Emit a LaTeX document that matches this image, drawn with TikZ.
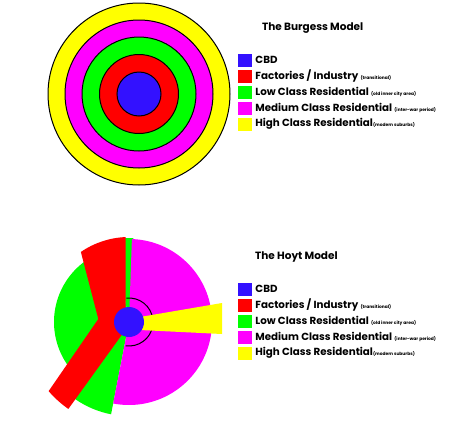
\documentclass[tikz,border=0pt]{standalone}
\usepackage{fontspec}
\setmainfont{Poppins}
\usetikzlibrary{positioning,calc}
\definecolor{cbd}{RGB}{51,17,255}
\definecolor{fac}{RGB}{255,0,0}
\definecolor{low}{RGB}{0,255,0}
\definecolor{med}{RGB}{255,0,255}
\definecolor{high}{RGB}{255,255,0}
\newcommand{\zonenote}[1]{{\fontsize{4.4}{5}\selectfont #1}}

\begin{document}
\begin{tikzpicture}[
  x=1pt,y=-1pt,
  ring/.style={draw=black,line width=1pt},
  key/.style={minimum width=14pt,minimum height=13pt,inner sep=0pt},
  keytext/.style={font=\bfseries\fontsize{10.3}{12}\selectfont,inner sep=0pt,
                  right=3pt of #1},
  title/.style={font=\bfseries\fontsize{10.5}{12}\selectfont,anchor=west,
                inner sep=0pt}
]
\useasboundingbox[fill=white] (0,0) rectangle (474,421);

% burgess rings
\coordinate (bc) at (139,94);
\draw[ring,fill=high] (bc) circle[radius=91pt];
\draw[ring,fill=med] (bc) circle[radius=74pt];
\draw[ring,fill=low] (bc) circle[radius=57pt];
\draw[ring,fill=fac] (bc) circle[radius=39.5pt];
\draw[ring,fill=cbd] (bc) circle[radius=22pt];

% burgess key
\node[title] (btitle) at (262,28) {The Burgess Model};
\node[key,fill=cbd] (bk1) at (245,60) {};
\node[keytext=bk1] (bt1) {CBD};
\node[key,fill=fac] (bk2) at (245,76) {};
\node[keytext=bk2] (bt2) {Factories / Industry \zonenote{(transitional)}};
\node[key,fill=low] (bk3) at (245,92) {};
\node[keytext=bk3] (bt3) {Low Class Residential \zonenote{(old inner city area)}};
\node[key,fill=med] (bk4) at (245,108) {};
\node[keytext=bk4] (bt4) {Medium Class Residential \zonenote{(inter-war period)}};
\node[key,fill=high] (bk5) at (245,124) {};
\node[keytext=bk5] (bt5) {High Class Residential\zonenote{(modern suburbs)}};

% hoyt sectors
\coordinate (hc) at (129,322);
\fill[low] (hc) -- ($(hc)+(100:75pt)$) arc[start angle=100,end angle=230,radius=75pt] -- cycle;
\fill[low] (hc) -- ($(hc)+(222:94pt)$) arc[start angle=222,end angle=259,radius=94pt] -- cycle;
\fill[low] (hc) -- ($(hc)+(87:84pt)$) arc[start angle=87,end angle=100,radius=84pt] -- cycle;
\fill[med] (hc) -- ($(hc)+(88:83pt)$) arc[start angle=88,end angle=-101,radius=83pt] -- cycle;
\draw[line width=1pt] ($(hc)+(96:24pt)$) arc[start angle=96,end angle=-98,radius=24pt];
\fill[high] (140,317) -- (222,303) -- (222,334) -- (140,330) -- cycle;
\fill[fac] (98.3,319) -- ($(hc)+(124.5:85pt)$) arc[start angle=124.5,end angle=92.2,radius=85pt]
  -- (125.7,325) -- (121.7,335) -- ($(hc)+(235.1:106pt)$)
  arc[start angle=235.1,end angle=220.7,radius=106pt] -- cycle;
\fill[cbd] (hc) circle[radius=15pt];

% hoyt key
\node[title] (htitle) at (255,257) {The Hoyt Model};
\node[key,fill=cbd] (hk1) at (245,289) {};
\node[keytext=hk1] (ht1) {CBD};
\node[key,fill=fac] (hk2) at (245,305) {};
\node[keytext=hk2] (ht2) {Factories / Industry \zonenote{(transitional)}};
\node[key,fill=low] (hk3) at (245,321) {};
\node[keytext=hk3] (ht3) {Low Class Residential \zonenote{(old inner city area)}};
\node[key,fill=med] (hk4) at (245,337) {};
\node[keytext=hk4] (ht4) {Medium Class Residential \zonenote{(inter-war period)}};
\node[key,fill=high] (hk5) at (245,353) {};
\node[keytext=hk5] (ht5) {High Class Residential\zonenote{(modern suburbs)}};
\end{tikzpicture}
\end{document}
